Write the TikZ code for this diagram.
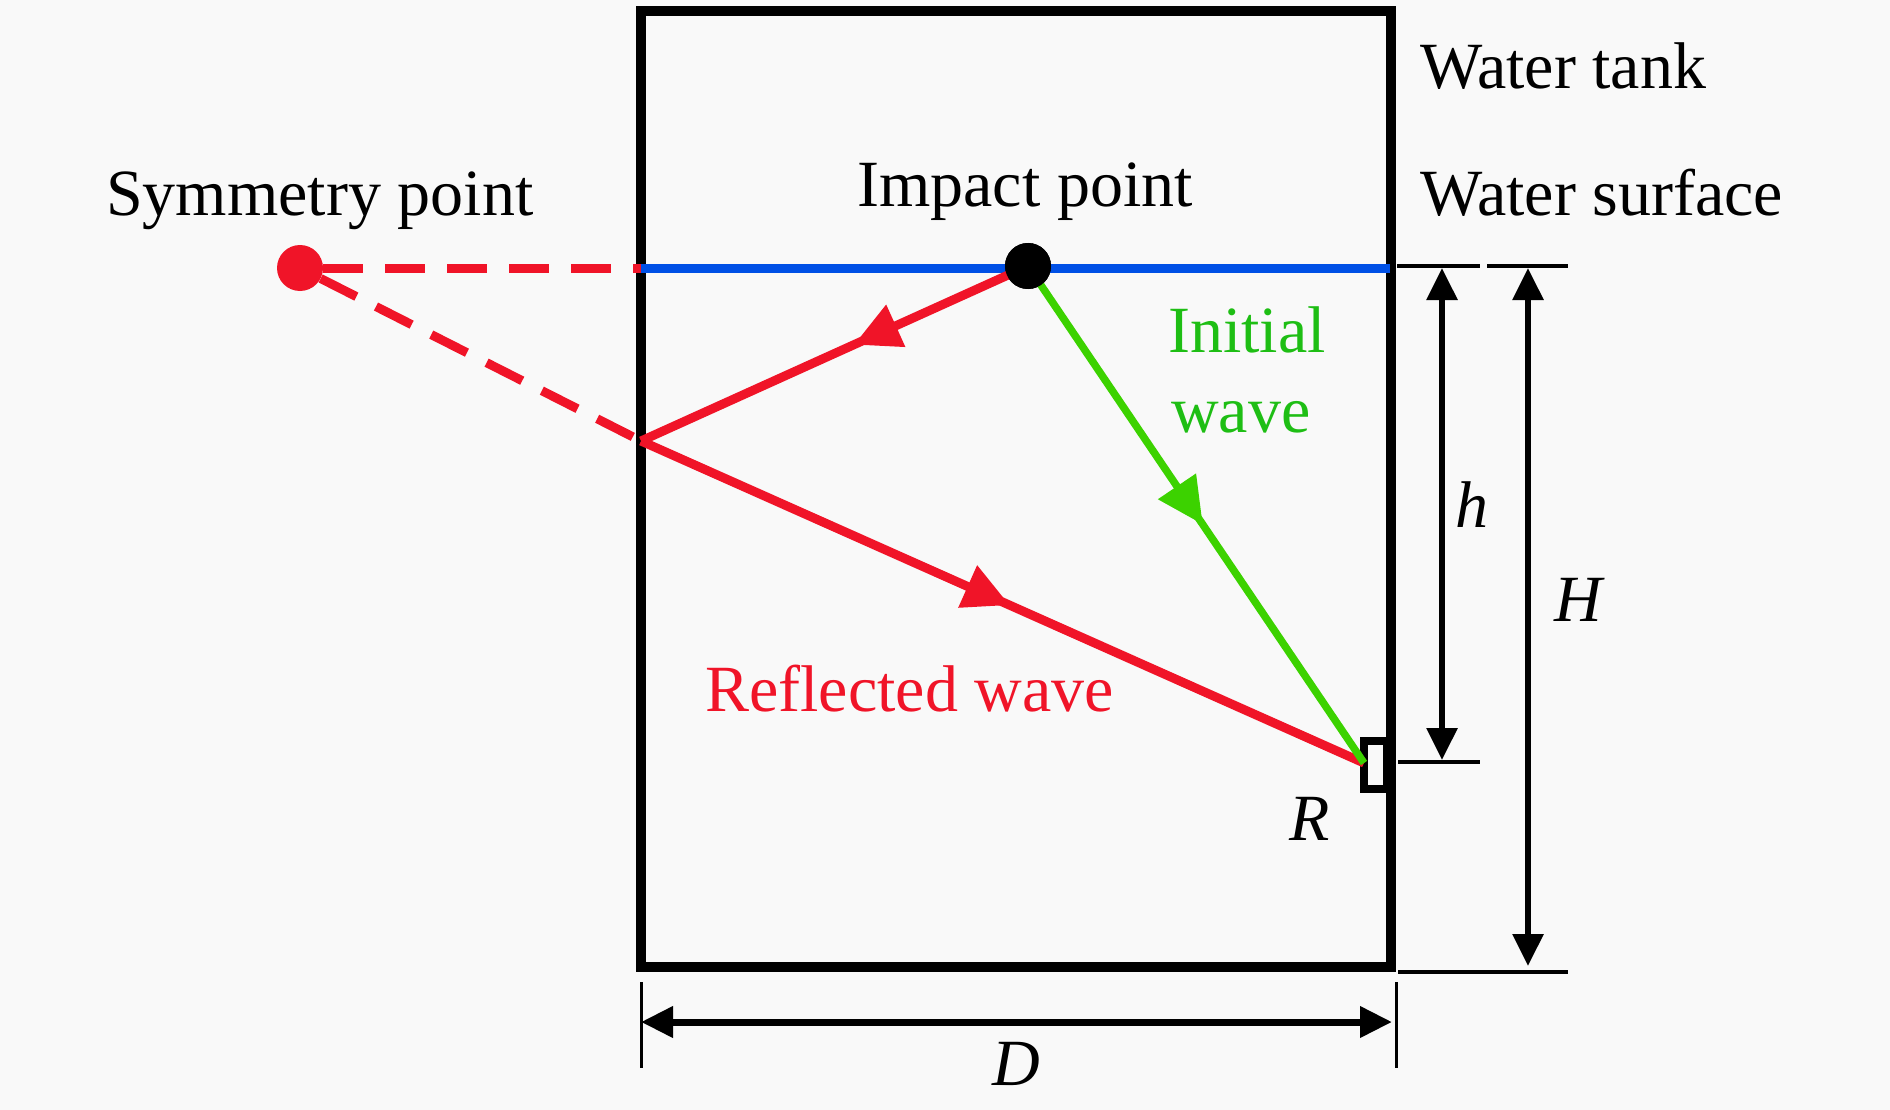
\documentclass[tikz,border=0pt]{standalone}
\usepackage{fontspec}
\setmainfont{Liberation Serif}
\usetikzlibrary{arrows.meta,decorations.markings}
\definecolor{wred}{RGB}{240,20,40}
\definecolor{wgreen}{RGB}{60,210,0}
\definecolor{tgreen}{RGB}{30,190,20}
\definecolor{wblue}{RGB}{0,80,230}
\definecolor{bg}{RGB}{249,249,249}
\tikzset{
  lbl/.style={inner sep=0pt, font=\fontsize{66}{80}\selectfont},
  wall/.style={line width=10pt, black},
  dimarrow/.style={line width=6pt, {Triangle[length=32pt,width=30pt]}-{Triangle[length=32pt,width=30pt]}},
  extline/.style={line width=3.5pt},
  ray/.style={line width=9pt},
  midarrow/.style={postaction={decorate}, decoration={markings,
     mark=at position #1 with {\arrow{Triangle[length=46pt,width=44pt]}}}},
  dashray/.style={line width=9pt, wred, dash pattern=on 40pt off 22pt},
  dot/.style={circle, inner sep=0pt, minimum size=#1},
}
\begin{document}
\begin{tikzpicture}[x=1pt,y=-1pt]
\fill[bg] (0,0) rectangle (1890,1110);
\useasboundingbox (0,0) rectangle (1890,1110);

% coordinates
\coordinate (refl) at (641,441);
\coordinate (R) at (1364,763);
\coordinate (wsL) at (641,268);
\coordinate (wsR) at (1390,268);

% detector
\draw[line width=8pt] (1364,741) rectangle (1387,789);

% tank
\draw[wall] (641,11) rectangle (1391,967);
\node[coordinate] (tank) at (1016,489) {};

% water surface
\draw[line width=9pt, wblue] (wsL) -- (wsR);

% symmetry & impact points
\node[dot=46pt, fill=wred] (sym) at (300,268) {};
\node[dot=46pt, fill=black] (imp) at (1028,266) {};

% dashed mirror lines
\draw[dashray] (sym) -- (wsL);
\draw[dashray] (sym) -- (refl);

% rays
\draw[ray, wred, midarrow=0.45] (imp.center) -- (refl);
\draw[ray, wred, midarrow=0.51] (refl) -- (R);
\draw[line width=7.5pt, wgreen, midarrow=0.52] (imp.center) -- (R);
\node[dot=46pt, fill=black] at (imp) {};

% dimension h and H
\coordinate (ht) at (1442,268);
\coordinate (hb) at (1442,760);
\coordinate (Ht) at (1528,268);
\coordinate (Hb) at (1528,966);
\draw[extline] (1397,266) -- (1480,266);
\draw[extline] (1487,266) -- (1568,266);
\draw[extline] (1398,762) -- (1480,762);
\draw[extline] (1398,972) -- (1568,972);
\draw[dimarrow] (ht) -- (hb);
\draw[dimarrow] (Ht) -- (Hb);

% dimension D
\coordinate (Dl) at (641,1022);
\coordinate (Dr) at (1392,1022);
\draw[line width=3pt] (641,982) -- (641,1068);
\draw[line width=3pt] (1396,982) -- (1396,1068);
\draw[dimarrow, line width=7pt] (Dl) -- (Dr);

% labels
\node[lbl, anchor=base west] (tanklbl) at (1420,89) {Water tank};
\node[lbl, anchor=base west] (surflbl) at (1420,215) {Water surface};
\node[lbl, anchor=base] (implbl) at (1025,207) {Impact point};
\node[lbl, anchor=base west] (symlbl) at (106,215) {Symmetry point};
\node[lbl, anchor=base west, text=tgreen] (init1) at (1168,352) {Initial};
\node[lbl, anchor=base west, text=tgreen] (init2) at (1171,432) {wave};
\node[lbl, anchor=base west, text=wred] (refllbl) at (705,711) {Reflected wave};
\node[lbl, anchor=base] (hlbl) at (1472,527) {\textit{h}};
\node[lbl, anchor=base] (Hlbl) at (1580,621) {\textit{H}};
\node[lbl, anchor=base] (Rlbl) at (1310,840) {\textit{R}};
\node[lbl, anchor=base] (Dlbl) at (1016,1085) {\textit{D}};
\end{tikzpicture}
\end{document}
